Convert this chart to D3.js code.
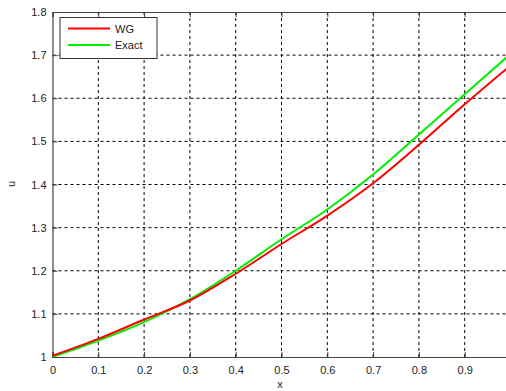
<!DOCTYPE html>
<html>
<head>
<meta charset="utf-8">
<script src="https://cdn.jsdelivr.net/npm/d3@7"></script>
<style>
  body { margin: 0; background: #fff; }
  text { font-family: "Liberation Sans", Arial, sans-serif; fill: #222; }
</style>
</head>
<body>
<svg id="chart" width="506" height="391"></svg>
<script>
// data
const xs = [0, 0.1, 0.2, 0.3, 0.4, 0.5, 0.6, 0.7, 0.8, 0.9, 1.0];
const wgValues = [1.003, 1.042, 1.087, 1.131, 1.193, 1.262, 1.328, 1.403, 1.492, 1.586, 1.676];
const exactValues = [1.000, 1.038, 1.081, 1.134, 1.200, 1.273, 1.342, 1.423, 1.516, 1.609, 1.703];
const xTicks = [0, 0.1, 0.2, 0.3, 0.4, 0.5, 0.6, 0.7, 0.8, 0.9];
const yTicks = [1, 1.1, 1.2, 1.3, 1.4, 1.5, 1.6, 1.7, 1.8];
const seriesNames = ["WG", "Exact"];
const seriesColors = ["#ff0000", "#00ee00"];

const svg = d3.select("#chart");

const margin = {top: 12, left: 52.5, bottom: 357};
const x = d3.scaleLinear().domain([0, 1]).range([margin.left, 510.5]);
const y = d3.scaleLinear().domain([1, 1.8]).range([margin.bottom, margin.top]);

// grid
svg.append("g")
    .selectAll("line")
    .data(xTicks.filter(d => d > 0))
    .join("line")
    .attr("x1", d => x(d)).attr("x2", d => x(d))
    .attr("y1", margin.top).attr("y2", margin.bottom)
    .attr("stroke", "#000").attr("stroke-width", 1)
    .attr("stroke-dasharray", "3,3");

svg.append("g")
    .selectAll("line")
    .data(yTicks.filter(d => d > 1 && d < 1.8))
    .join("line")
    .attr("x1", margin.left).attr("x2", 506)
    .attr("y1", d => y(d)).attr("y2", d => y(d))
    .attr("stroke", "#000").attr("stroke-width", 1)
    .attr("stroke-dasharray", "3,3");

// axes (MATLAB-ish: inward ticks)
const xAxis = d3.axisBottom(x).tickValues(xTicks).tickSize(-5).tickPadding(9)
    .tickFormat(d => d === 0 ? "0" : d3.format(".1f")(d));
const gx = svg.append("g").attr("transform", `translate(0,${margin.bottom})`).call(xAxis);
const xTop = d3.axisTop(x).tickValues(xTicks).tickSize(-5).tickFormat("");
const gxt = svg.append("g").attr("transform", `translate(0,${margin.top})`).call(xTop);
const yAxis = d3.axisLeft(y).tickValues(yTicks).tickSize(-5).tickPadding(6)
    .tickFormat(d => d === 1 ? "1" : d3.format(".1f")(d));
const gy = svg.append("g").attr("transform", `translate(${margin.left},0)`).call(yAxis);

[gx, gxt, gy].forEach(g => {
    g.select(".domain").attr("stroke", "#444").attr("stroke-width", 1.2);
    g.selectAll(".tick line").attr("stroke", "#444");
    g.selectAll("text").attr("font-size", 11).attr("fill", "#222")
        .attr("font-family", "'Liberation Sans', Arial, sans-serif");
});

// curves
const line = d3.line()
    .x((d, i) => x(xs[i]))
    .y(d => y(d))
    .curve(d3.curveMonotoneX);

svg.append("defs").append("clipPath").attr("id", "clip")
    .append("rect").attr("x", margin.left).attr("y", margin.top)
    .attr("width", 506 - margin.left).attr("height", margin.bottom - margin.top);

const plot = svg.append("g").attr("clip-path", "url(#clip)");
plot.append("path").datum(exactValues)
    .attr("d", line).attr("fill", "none")
    .attr("stroke", seriesColors[1]).attr("stroke-width", 2);
plot.append("path").datum(wgValues)
    .attr("d", line).attr("fill", "none")
    .attr("stroke", seriesColors[0]).attr("stroke-width", 2);

// axis labels
svg.append("text").attr("x", 280).attr("y", 388)
    .attr("text-anchor", "middle").attr("font-size", 11).text("x");
svg.append("text")
    .attr("transform", "translate(15,184) rotate(-90)")
    .attr("text-anchor", "middle").attr("font-size", 11).text("u");

// legend
const legend = svg.append("g");
legend.append("rect")
    .attr("x", 60).attr("y", 17.5).attr("width", 97).attr("height", 41)
    .attr("fill", "#fff").attr("stroke", "#333").attr("stroke-width", 1);
seriesNames.forEach((name, i) => {
    const ly = 28.5 + i * 16.5;
    legend.append("line")
        .attr("x1", 68).attr("x2", 110).attr("y1", ly).attr("y2", ly)
        .attr("stroke", seriesColors[i]).attr("stroke-width", 2);
    legend.append("text")
        .attr("x", 115).attr("y", ly + 4)
        .attr("font-size", 11).text(name);
});
</script>
</body>
</html>
